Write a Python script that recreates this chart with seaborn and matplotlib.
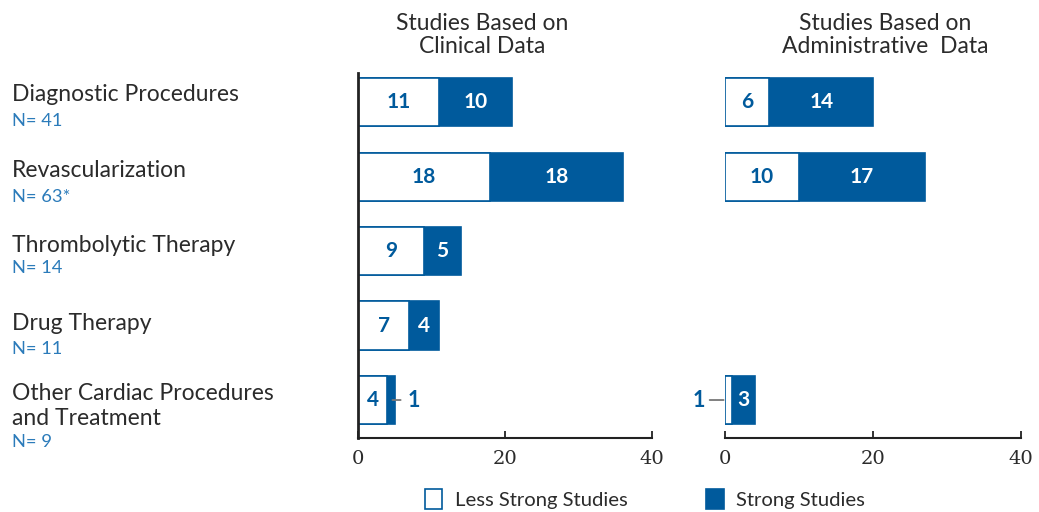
import matplotlib
matplotlib.use("Agg")
import matplotlib.pyplot as plt
from matplotlib.patches import Patch
import seaborn as sns
import pandas as pd

# Study counts per topic
categories = ["Diagnostic Procedures", "Revascularization", "Thrombolytic Therapy",
              "Drug Therapy", "Other Cardiac Procedures\nand Treatment"]
n_labels = ["N= 41", "N= 63*", "N= 14", "N= 11", "N= 9"]

clinical_less = [11, 18, 9, 7, 4]
clinical_strong = [10, 18, 5, 4, 1]

admin_less = [6, 10, None, None, 1]
admin_strong = [14, 17, None, None, 3]

panel_titles = ["Studies Based on\nClinical Data", "Studies Based on\nAdministrative  Data"]
x_ticks = [0, 20, 40]

# Label offsets (pixels) relative to each bar centre
label_dy = [8, 6, 6, 2, -6]
n_dy = [-19, -20, -17, -23, -42]

BLUE = "#005a9c"
LIGHT_BLUE = "#2b7bba"
TEXT = "#2b2b2b"

sns.set_theme(style="white")
plt.rcParams["font.family"] = ["Lato", "DejaVu Sans"]

W, H = 1039, 512
fig = plt.figure(figsize=(W / 100, H / 100), dpi=100)
ax1 = fig.add_axes([358 / W, 74 / H, 294 / W, 365 / H])
ax2 = fig.add_axes([725 / W, 74 / H, 296 / W, 365 / H])


def draw_panel(ax, less, strong, show_left_spine):
    rows = [(c, l, s) for c, l, s in zip(categories, less, strong) if l is not None]
    df = pd.DataFrame(rows, columns=["cat", "less", "strong"])
    df["total"] = df["less"] + df["strong"]
    sns.barplot(data=df, x="total", y="cat", order=categories, orient="h", ax=ax,
                color=BLUE, saturation=1, width=0.645, edgecolor=BLUE, linewidth=1.2)
    sns.barplot(data=df, x="less", y="cat", order=categories, orient="h", ax=ax,
                color="white", saturation=1, width=0.645, edgecolor=BLUE, linewidth=1.2)

    for _, r in df.iterrows():
        i = categories.index(r["cat"])
        # less-strong segment
        if r["less"] > 1:
            ax.text(r["less"] / 2, i, str(r["less"]), ha="center", va="center",
                    color=BLUE, fontsize=15, fontweight="bold")
        else:
            ax.annotate(str(r["less"]), xy=(0, i), xytext=(-20, 0),
                        textcoords="offset pixels", ha="right", va="center",
                        color=BLUE, fontsize=15.5, fontweight="bold",
                        arrowprops=dict(arrowstyle="-", color="#777777", lw=1.3,
                                        shrinkA=1, shrinkB=1, relpos=(1, 0.5)))
        # strong segment
        if r["strong"] > 1:
            ax.text(r["less"] + r["strong"] / 2, i, str(r["strong"]), ha="center",
                    va="center", color="white", fontsize=15, fontweight="bold")
        else:
            ax.annotate(str(r["strong"]), xy=(r["total"] - 0.5, i), xytext=(17, 0),
                        textcoords="offset pixels", ha="left", va="center",
                        color=BLUE, fontsize=15.5, fontweight="bold",
                        arrowprops=dict(arrowstyle="-", color="#777777", lw=1.3,
                                        shrinkA=3, shrinkB=1, relpos=(0, 0.5)))

    ax.set_xlim(0, 40)
    ax.set_ylim(4.51, -0.39)
    ax.set_xticks(x_ticks)
    ax.set_xticklabels([str(t) for t in x_ticks], family="DejaVu Serif",
                       fontsize=14, color=TEXT)
    ax.set_yticks([])
    ax.set_xlabel("")
    ax.set_ylabel("")
    ax.tick_params(axis="x", direction="in", length=5, width=1.3, color="#222222",
                   pad=9, bottom=True)
    for side in ["top", "right"]:
        ax.spines[side].set_visible(False)
    ax.spines["bottom"].set_color("#222222")
    ax.spines["bottom"].set_linewidth(1.5)
    ax.spines["left"].set_visible(show_left_spine)
    ax.spines["left"].set_color("#222222")
    ax.spines["left"].set_linewidth(2)


draw_panel(ax1, clinical_less, clinical_strong, True)
draw_panel(ax2, admin_less, admin_strong, False)

# Row labels on the left
for i, (cat, n) in enumerate(zip(categories, n_labels)):
    ax1.annotate(cat, xy=(12 / W, i), xycoords=("figure fraction", "data"),
                 xytext=(0, label_dy[i]), textcoords="offset pixels",
                 ha="left", va="center", fontsize=16.5, color=TEXT, linespacing=1.25)
    ax1.annotate(n, xy=(12 / W, i), xycoords=("figure fraction", "data"),
                 xytext=(0, n_dy[i]), textcoords="offset pixels",
                 ha="left", va="center", fontsize=13.2, color=LIGHT_BLUE)

# Panel titles
fig.text(482 / W, (H - 35) / H, panel_titles[0], ha="center", va="center",
         fontsize=16.5, color=TEXT, linespacing=1.17)
fig.text(885 / W, (H - 35) / H, panel_titles[1], ha="center", va="center",
         fontsize=16.5, color=TEXT, linespacing=1.17)

handles = [Patch(facecolor="white", edgecolor=BLUE, linewidth=1.2),
           Patch(facecolor=BLUE, edgecolor=BLUE, linewidth=1.2)]
fig.legend(handles, ["Less Strong Studies", "Strong Studies"], loc="center left",
           bbox_to_anchor=(407 / W, (H - 499) / H), ncol=2, frameon=False,
           handlelength=0.85, handleheight=1.2, handletextpad=0.6,
           columnspacing=3.9, fontsize=14.6, labelcolor=TEXT)

fig.savefig("out.png", dpi=100)
